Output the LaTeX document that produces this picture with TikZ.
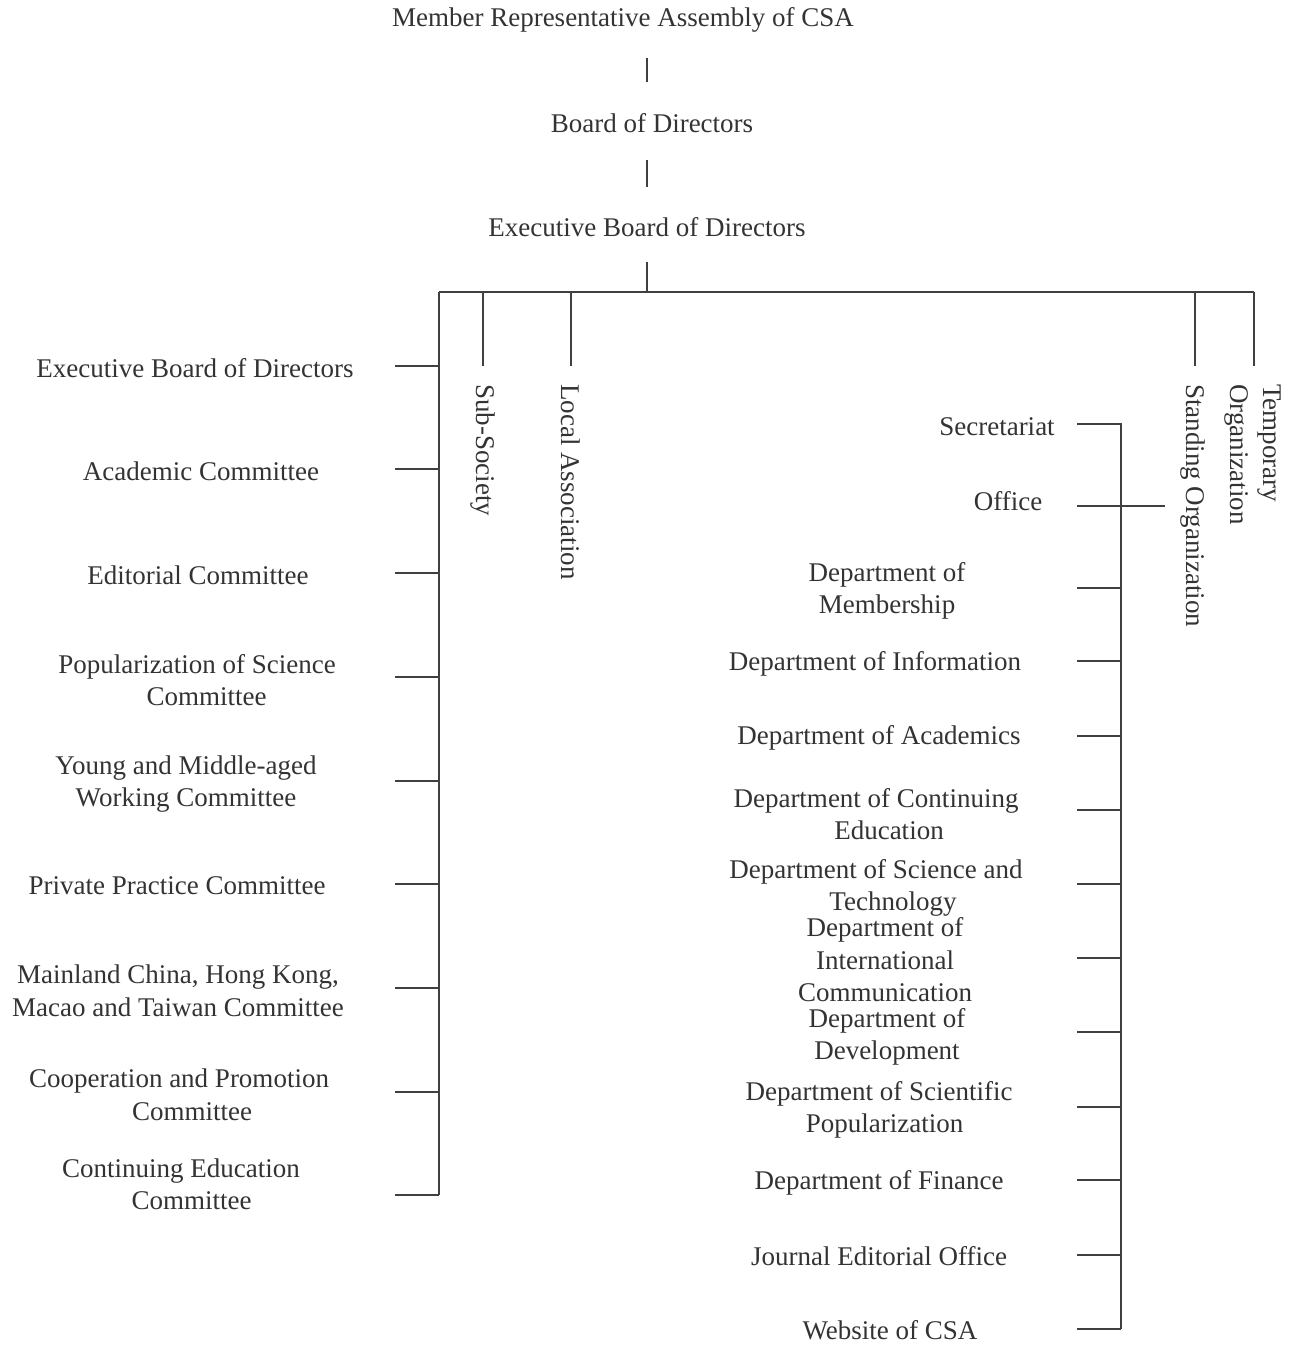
\documentclass[tikz,border=0pt]{standalone}
\usepackage{fontspec}
\setmainfont{Liberation Serif}
\definecolor{txt}{HTML}{333333}
\definecolor{ln}{HTML}{404040}
\begin{document}
\begin{tikzpicture}[x=1pt,y=-1pt,
  lbl/.style={font=\fontsize{27}{32.5}\selectfont, text=txt, align=center, inner sep=0pt},
  vlbl/.style={lbl, rotate=-90, anchor=west, align=left},
  conn/.style={draw=ln, line width=1.7pt}]
\useasboundingbox (0,0) rectangle (1295,1345);
% top chain
\node[lbl] (mra) at (623,20) {Member Representative Assembly of CSA};
\node[lbl] (bod) at (652,123) {Board of Directors};
\node[lbl] (ebd) at (647,227) {Executive Board of Directors};
\coordinate (a1) at (647,58);  \coordinate (a2) at (647,82);
\coordinate (b1) at (647,160); \coordinate (b2) at (647,187);
\coordinate (e1) at (647,262); \coordinate (bus) at (647,292);
\draw[conn] (a1) -- (a2);
\draw[conn] (b1) -- (b2);
\draw[conn] (e1) -- (bus);
% bus
\coordinate (bL) at (439,292);
\coordinate (bR) at (1254,292);
\draw[conn] (bL) -- (bR);
% vertical branches
\coordinate (ss) at (483,366);
\coordinate (la) at (571,366);
\coordinate (so) at (1195,366);
\coordinate (to) at (1254,366);
\draw[conn] (ss|-bL) -- (ss);
\draw[conn] (la|-bL) -- (la);
\draw[conn] (so|-bL) -- (so);
\draw[conn] (bR) -- (to);
\node[vlbl] (ssT) at (483,384) {Sub-Society};
\node[vlbl] (laT) at (571,384) {Local Association};
\node[vlbl] (soT) at (1193,384) {Standing Organization};
\node[vlbl] (toT) at (1253,384) {Temporary\\Organization};
% left committees
\foreach \nm/\cx/\cy/\ty/\t in {
  L1/195/368/366/{Executive Board of Directors},
  L2/201/471/469/{Academic Committee},
  L3/198/575/573/{Editorial Committee},
  L4/197/680/677/{Popularization of Science\\\hspace*{19pt}Committee},
  L5/186/784/781/{Young and Middle-aged\\Working Committee},
  L6/177/886/884/{Private Practice Committee},
  L7/178/991/988/{Mainland China, Hong Kong,\\Macao and Taiwan Committee},
  L8/179/1095/1092/{Cooperation and Promotion\\\hspace*{26pt}Committee},
  L9/181/1184/1195/{Continuing Education\\\hspace*{21pt}Committee}}{
  \node[lbl] (\nm) at (\cx,\cy) {\t};
  \coordinate (\nm t) at (395,\ty);
  \draw[conn] (\nm t) -- (\nm t -| bL);
}
\draw[conn] (bL) -- (L9t -| bL);
% right departments
\coordinate (R1t) at (1077,424);
\coordinate (R2t) at (1077,506);
\coordinate (R2e) at (1165,506);
\coordinate (sp) at (1121,424);
\node[lbl] (R1) at (997,427) {Secretariat};
\node[lbl] (R2) at (1008,501) {Office};
\draw[conn] (R2t) -- (R2e);
\foreach \nm/\cx/\cy/\ty/\t in {
  R3/887/591/588/{Department of\\Membership},
  R4/875/664/661/{Department of Information},
  R5/879/738/736/{Department of Academics},
  R6/876/814/810/{Department of Continuing\\\hspace*{26pt}Education},
  R7/876/888/884/{Department of Science and\\\hspace*{34pt}Technology},
  R8/885/960/958/{Department of\\International\\Communication},
  R9/887/1037/1032/{Department of\\Development},
  R10/879/1110/1107/{Department of Scientific\\\hspace*{11pt}Popularization},
  R11/879/1183/1180/{Department of Finance},
  R12/879/1256/1255/{Journal Editorial Office},
  R13/890/1330/1329/{Website of CSA}}{
  \node[lbl] (\nm) at (\cx,\cy) {\t};
  \coordinate (\nm t) at (1077,\ty);
  \draw[conn] (\nm t) -- (\nm t -| sp);
}
\draw[conn] (R1t) -- (sp) -- (R13t -| sp);
\end{tikzpicture}
\end{document}
